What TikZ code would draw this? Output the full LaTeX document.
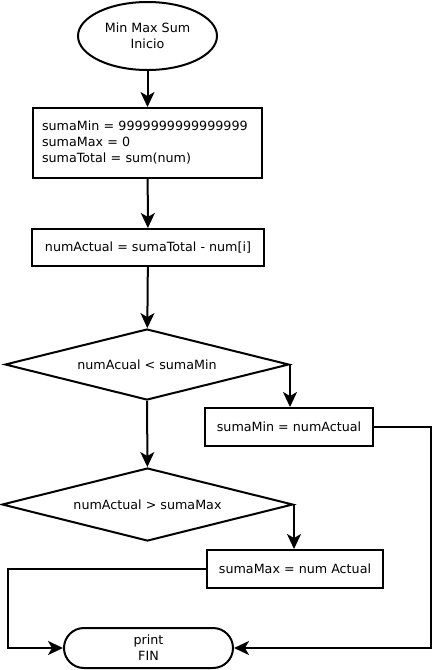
\documentclass[tikz,border=0pt]{standalone}
\usepackage{fontspec}
\setmainfont{DejaVu Sans}
\usepackage{tikz}
\usetikzlibrary{positioning,arrows.meta,shapes.geometric,shapes.misc}

\begin{document}
\begin{tikzpicture}[x=1pt,y=-1pt,line width=2pt,
  font=\fontsize{12.7}{16}\selectfont,
  arr/.style={-{Stealth[length=15pt,width=14pt,inset=4pt]}},
  caja/.style={draw,rectangle,inner sep=0pt,minimum height=38pt},
  decision/.style={draw,diamond,aspect=4,inner sep=0pt},
  terminal/.style={draw,align=center,inner sep=0pt}]
  \useasboundingbox (0,0) rectangle (432,670);
  \node[terminal,ellipse,minimum width=139pt,minimum height=68pt] (ini) at (147.5,36){Min Max Sum\\Inicio};
  \node[caja,minimum height=70pt,inner xsep=9pt,text width=211pt,align=left] (vars) at (147.5,143){sumaMin = 9999999999999999\\sumaMax = 0\\sumaTotal = sum(num)};
  \node[caja,minimum width=232pt,minimum height=37pt] (actual) at (148,247.5){numActual = sumaTotal - num[i]};
  \node[decision,minimum width=284pt,minimum height=71pt] (esmin) at (147,364.5){numAcual < sumaMin};
  \node[caja,minimum width=168pt] (nuevomin) at (289,427){sumaMin = numActual};
  \node[decision,minimum width=291pt,minimum height=73pt] (esmax) at (147.5,504.5){numActual > sumaMax};
  \node[caja,minimum width=176pt] (nuevomax) at (295,569){sumaMax = num Actual};
  \node[terminal,rounded rectangle,minimum width=169pt,minimum height=40pt] (fin) at (148.5,648){print\\FIN};
  \coordinate (izq) at (8,648);
  \coordinate (der) at (431,648);
  \draw[arr](ini)--(vars);
  \draw[arr](vars)--(actual);
  \draw[arr](actual)--(esmin);
  \draw[arr](esmin.east)--(esmin.east|-nuevomin.north);
  \draw[arr](esmin)--(esmax);
  \draw[arr](esmax.east)--(esmax.east|-nuevomax.north);
  \draw[arr](nuevomax.west)-|(izq)--(fin.west);
  \draw[arr](nuevomin.east)-|(der)--(fin.east);
\end{tikzpicture}
\end{document}
